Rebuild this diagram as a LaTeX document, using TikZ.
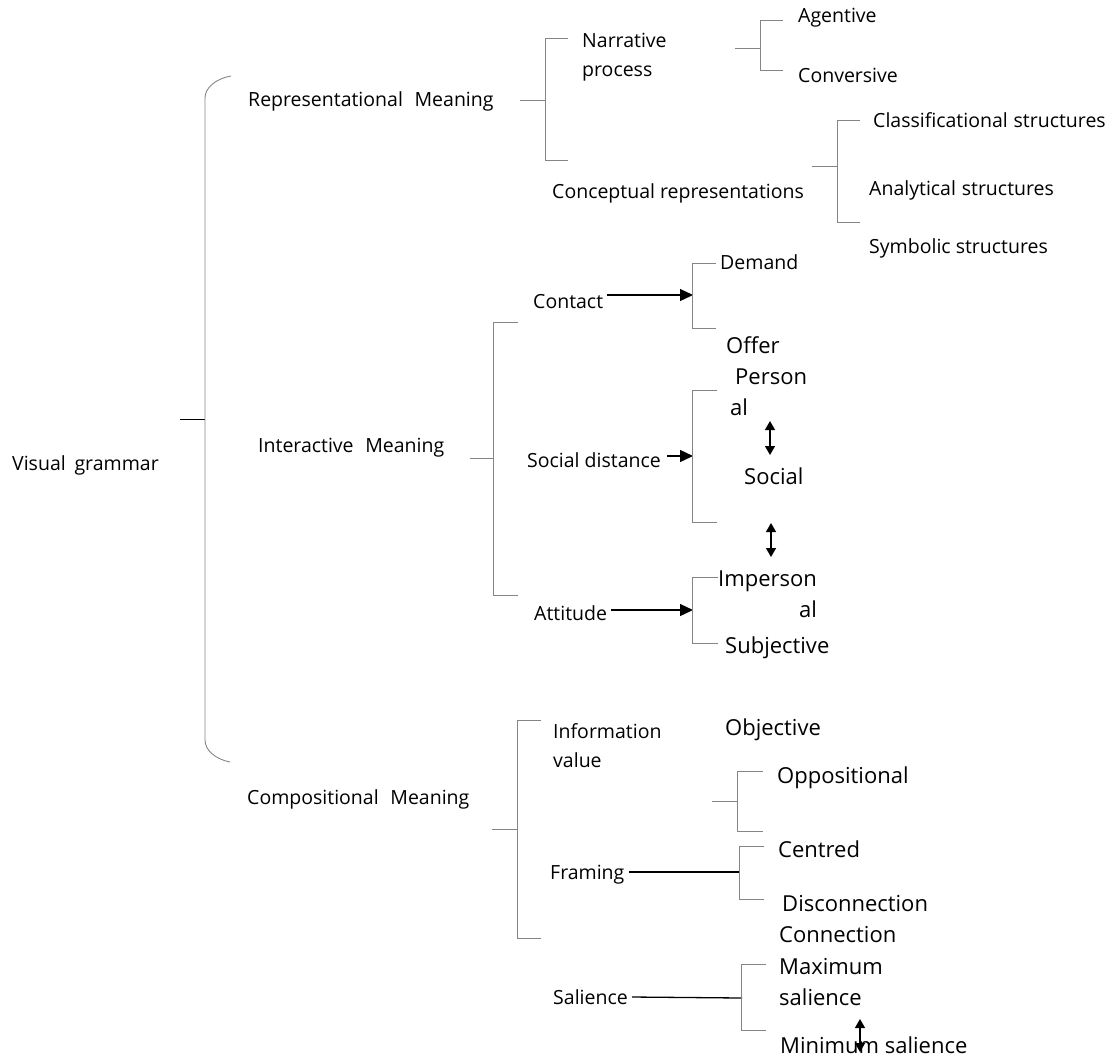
\documentclass[tikz,border=0pt]{standalone}
\usepackage{fontspec}
\setmainfont{Open Sans}
\usetikzlibrary{arrows.meta}
\begin{document}
\begin{tikzpicture}[x=1pt,y=-1pt,
  lbl/.style={anchor=west,inner sep=0pt,font=\fontsize{19.5}{29}\selectfont},
  big/.style={anchor=west,inner sep=0pt,font=\fontsize{22}{31}\selectfont},
  br/.style={draw=black!48,line width=0.9pt},
  blk/.style={draw=black,line width=1.3pt},
  arr/.style={blk,-{Triangle[length=13pt,width=12pt]}},
  darr/.style={blk,{Triangle[length=9pt,width=10pt]}-{Triangle[length=9pt,width=10pt]}}]
\useasboundingbox (0,0) rectangle (1110,1061);

% ---------- root ----------
\node[lbl] (vg) at (12,465) {Visual\hspace{0.45em}grammar};
\coordinate (rootT) at (180,419);
\coordinate (rootM) at (205,419);
\coordinate (rootA) at (231,76);
\coordinate (rootB) at (230,762);
\draw[draw=black,line width=0.9pt] (rootT) -- (rootM);
\draw[br] (rootA) .. controls (215,79) and (205,88) .. (205,98) -- (205,740)
  .. controls (205,750) and (215,759) .. (rootB);

% ---------- representational ----------
\node[lbl] (rep) at (248,101) {Representational\hspace{0.6em}Meaning};
\coordinate (repS) at (520,100);
\coordinate (repM) at (545,100);
\draw[br] (repS) -- (repM);
\draw[br] (568,38) -- (545,38) -- (545,160) -- (568,160);

\node[lbl,align=left] (narr) at (582,57) {Narrative\\process};
\coordinate (narS) at (735,48);
\coordinate (narM) at (760,48);
\draw[br] (narS) -- (narM);
\draw[br] (783,20) -- (760,20) -- (760,70) -- (783,70);
\node[lbl] (agent) at (798,18) {Agentive};
\node[lbl] (conv) at (798,75) {Conversive};

\node[lbl] (concept) at (552,193) {Conceptual representations};
\coordinate (conS) at (812,166);
\coordinate (conM) at (837,166);
\draw[br] (conS) -- (conM);
\draw[br] (860,120) -- (837,120) -- (837,222) -- (860,222);
\node[lbl] (classif) at (873,120) {Classificational\hspace{0.3em}structures};
\node[lbl] (analyt) at (869,190) {Analytical\hspace{0.3em}structures};
\node[lbl] (symb) at (869,248) {Symbolic structures};

% ---------- interactive ----------
\node[lbl] (inter) at (258,448) {Interactive\hspace{0.6em}Meaning};
\coordinate (intS) at (470,458);
\coordinate (intM) at (493,458);
\draw[br] (intS) -- (intM);
\draw[br] (518,322) -- (493,322) -- (493,595) -- (518,595);

\node[lbl] (contact) at (533,302) {Contact};
\coordinate (ctS) at (607,295);
\coordinate (ctM) at (693,295);
\draw[arr] (ctS) -- (ctM);
\draw[br] (716,263) -- (692,263) -- (692,328) -- (716,328);
\node[lbl] (demand) at (720,262) {Demand};
\node[big] (offer) at (726,345) {Offer};
\node[big,align=left] (personal) at (730,392) {\hspace{5pt}Person\\al};
\node[big] (social) at (744,476) {Social};
\coordinate (d1a) at (770,421);
\coordinate (d1b) at (770,455);
\draw[darr] (d1a) -- (d1b);

\node[lbl] (socdist) at (527,460) {Social distance};
\coordinate (sdM) at (693,456);
\coordinate (sdS) at (667,456);
\draw[arr] (sdS) -- (sdM);
\draw[br] (717,390) -- (692,390) -- (692,522) -- (717,522);

\coordinate (d2a) at (771,523);
\coordinate (d2b) at (771,557);
\draw[darr] (d2a) -- (d2b);
\node[big,align=right] (imperson) at (718,594) {Imperson\\al};

\node[lbl] (attitude) at (534,613) {Attitude};
\coordinate (atM) at (693,610);
\coordinate (atS) at (611,610);
\draw[arr] (atS) -- (atM);
\draw[br] (718,577) -- (692,577) -- (692,643) -- (718,643);
\node[big] (subj) at (725,648) {Subjective};

% ---------- compositional ----------
\node[lbl] (comp) at (247,799) {Compositional\hspace{0.6em}Meaning};
\coordinate (cmS) at (492,829);
\coordinate (cmM) at (517,829);
\draw[br] (cmS) -- (cmM);
\draw[br] (541,720) -- (517,720) -- (517,938) -- (541,938);

\node[lbl,align=left] (info) at (553,746) {Information\\value};
\node[big] (objective) at (725,730) {Objective};
\coordinate (ivS) at (712,801);
\coordinate (ivM) at (737,801);
\draw[br] (ivS) -- (ivM);
\draw[br] (763,771) -- (737,771) -- (737,831) -- (763,831);
\node[big] (oppos) at (777,778) {Oppositional};

\node[lbl] (framing) at (550,875) {Framing};
\coordinate (frS) at (629,872);
\coordinate (frM) at (739,872);
\draw[blk] (frS) -- (frM);
\draw[br] (764,846) -- (739,846) -- (739,899) -- (764,899);
\node[big] (centred) at (778,849) {Centred};
\node[big] (discon) at (782,904) {Disconnection};
\node[big] (conn) at (779,935) {Connection};

\node[lbl] (salience) at (553,997) {Salience};
\coordinate (saS) at (632,997);
\coordinate (saM) at (742,998);
\draw[blk] (saS) -- (saM);
\draw[br] (766,964) -- (741,964) -- (741,1030) -- (766,1030);
\node[big,align=left] (maxsal) at (779,982) {Maximum\\salience};
\node[big] (minsal) at (780,1045) {Minimum salience};
\coordinate (d3a) at (860,1019);
\coordinate (d3b) at (860,1052);
\draw[darr] (d3a) -- (d3b);
\end{tikzpicture}
\end{document}
